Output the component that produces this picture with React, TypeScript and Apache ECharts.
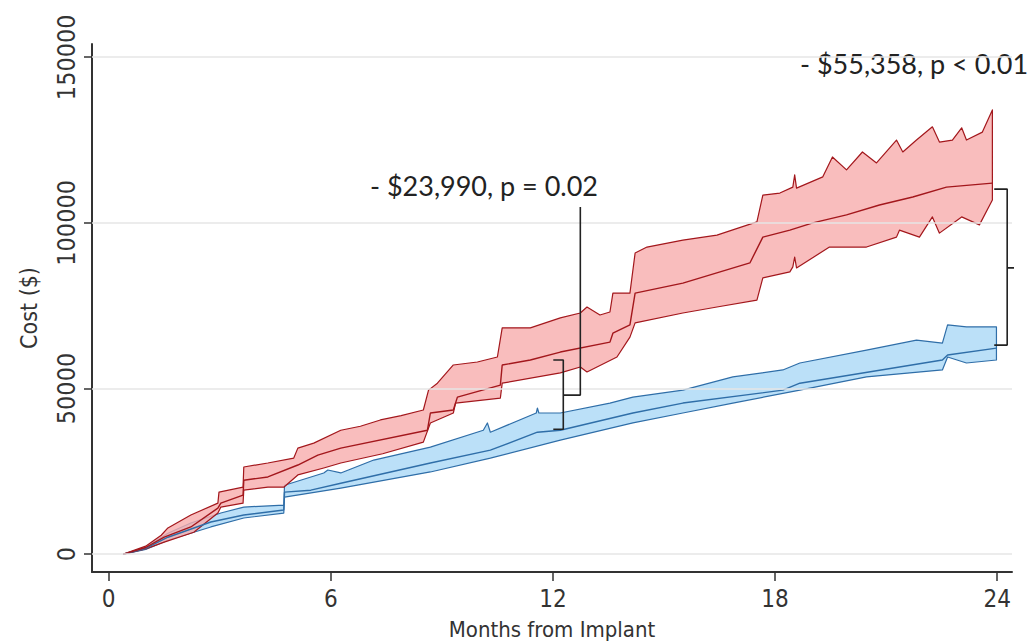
import React, { useEffect, useRef } from "react";
import * as echarts from "echarts";

// ---- data (months from implant, cost in $) ----
const xTicks = [0, 6, 12, 18, 24];
const yTicks = [0, 50000, 100000, 150000];

const redUpper: [number, number][] = [
  [0.4, 0], [1.0, 2400], [1.42, 5700], [1.6, 7900], [2.22, 11800], [2.95, 15400], [2.98, 18700],
  [3.63, 20200], [3.65, 26300], [4.3, 27500], [5.0, 29000], [5.11, 32000], [5.54, 33500],
  [6.27, 37400], [6.8, 38600], [7.34, 40500], [7.9, 41800], [8.5, 43500], [8.64, 49500], [8.88, 51600], [9.31, 57100],
  [9.96, 58000], [10.5, 59500], [10.63, 68300], [11.39, 68300], [12.2, 71300], [12.74, 72800],
  [12.92, 74600], [13.27, 72200], [13.54, 73100], [13.62, 78800], [14.08, 78800], [14.22, 90900],
  [14.54, 92700], [15.51, 94800], [16.43, 96300], [17.51, 100300], [17.67, 108400], [18.13, 109000],
  [18.48, 110800], [18.53, 114500], [18.58, 110500], [19.29, 113900], [19.55, 119900], [19.93, 116000],
  [20.36, 121400], [20.74, 118100], [21.28, 125000], [21.45, 121400], [21.82, 125000], [22.25, 129000],
  [22.44, 124400], [22.79, 125000], [23.04, 128700], [23.17, 125000], [23.6, 127400], [23.87, 134100],
];
const redMean: [number, number][] = [
  [0.4, 0], [1.0, 2000], [1.5, 5100], [2.22, 8200], [2.95, 13900], [3.03, 15400], [3.63, 17800],
  [3.65, 22300], [4.3, 23300], [5.11, 26900], [5.65, 29900], [6.27, 32000], [8.61, 37400],
  [8.69, 42600], [9.31, 43500], [9.42, 47400], [10.58, 51000], [10.63, 57100], [11.39, 58600],
  [12.2, 61000], [13.54, 64000], [13.62, 66700], [14.08, 69200], [14.22, 78800], [15.51, 81800],
  [17.32, 87900], [17.67, 95700], [18.4, 97800], [19.02, 100000], [19.93, 102400], [20.82, 105400],
  [21.72, 107800], [22.63, 110800], [23.87, 112000],
];
const redLower: [number, number][] = [
  [0.4, 0], [1.0, 1600], [1.5, 3600], [2.3, 6600], [2.95, 12400], [3.03, 14200], [3.63, 15400],
  [3.65, 19300], [4.3, 20200], [4.73, 20200], [5.11, 23900], [5.81, 26000], [6.27, 27500],
  [7.4, 30300], [8.5, 33800], [8.69, 39600], [9.31, 42600], [9.37, 45600], [10.58, 47100], [10.63, 51600],
  [12.2, 54700], [12.74, 56500], [12.92, 55000], [13.73, 59500], [14.08, 65500], [14.22, 69800],
  [15.51, 72800], [16.43, 74600], [17.51, 76700], [17.67, 83400], [18.4, 85200], [18.48, 86700],
  [18.53, 89700], [18.58, 86400], [19.47, 92700], [20.47, 92700], [21.28, 95700], [21.36, 97800],
  [21.9, 95700], [22.25, 101800], [22.44, 96900], [23.04, 101800], [23.52, 99400], [23.87, 106900],
];

const blueUpper: [number, number][] = [
  [0.4, 0], [1.0, 2000], [1.6, 6300], [2.22, 9400], [3.03, 12400], [3.65, 14200], [4.73, 14800],
  [4.75, 20800], [5.81, 24500], [5.92, 25400], [6.27, 24500], [7.16, 28400], [8.69, 32300],
  [10.12, 37400], [10.23, 39600], [10.31, 36800], [11.55, 42600], [11.58, 44100], [11.62, 42600],
  [12.2, 42600], [13.54, 45600], [14.16, 47400], [15.51, 49500], [16.86, 53500], [18.21, 55600],
  [18.67, 57700], [20.47, 61600], [21.82, 64600], [22.52, 63700], [22.66, 69200], [23.17, 68600],
  [23.98, 68600],
];
const blueMean: [number, number][] = [
  [0.4, 0], [1.0, 1700], [1.6, 5100], [2.76, 9700], [3.65, 11800], [4.73, 13300], [4.75, 18700],
  [5.46, 19300], [6.27, 21400], [8.69, 27500], [10.31, 31400], [11.58, 36800], [12.2, 37400],
  [14.16, 42600], [15.51, 45600], [18.21, 49500], [18.67, 51600], [22.52, 58600], [22.66, 60100],
  [23.98, 62200],
];
const blueLower: [number, number][] = [
  [0.4, 0], [1.0, 1400], [1.6, 4200], [2.76, 8200], [3.65, 10900], [4.73, 12400], [4.75, 17200],
  [6.27, 19900], [8.69, 24800], [10.31, 29000], [12.2, 34400], [14.16, 39600], [15.51, 42600],
  [16.86, 45600], [18.67, 49500], [20.47, 53500], [22.52, 55600], [22.66, 59500], [23.17, 57700],
  [23.98, 58600],
];

// annotation brackets (data coordinates)
const bracket12: [number, number][] = [[12.01, 58600], [12.28, 58600], [12.28, 37700], [12.01, 37700]];
const leader12: [number, number][] = [[12.28, 48000], [12.74, 48000], [12.74, 104800]];
const bracket24: [number, number][] = [[23.92, 110200], [24.27, 110200], [24.27, 63100], [23.92, 63100]];
const leader24: [number, number][] = [[24.27, 86400], [24.6, 86400], [24.6, 140100]];
const label12 = "- $23,990, p = 0.02";
const label24 = "- $55,358, p < 0.01";
const xTitle = "Months from Implant";

const narrow = "'Liberation Sans Narrow', 'Arial Narrow', 'DejaVu Sans Condensed', sans-serif";
const calib = "Lato, 'Open Sans', sans-serif";

function band(upper: [number, number][], lower: [number, number][], fill: string, stroke: string, z: number) {
  return {
    type: "custom",
    z,
    silent: true,
    data: [[12, 50000]],
    renderItem: (_p: any, api: any) => {
      const pts = [...upper.map((p) => api.coord(p)), ...lower.slice().reverse().map((p) => api.coord(p))];
      return {
        type: "polygon",
        shape: { points: pts },
        style: { fill, stroke, lineWidth: 1.2, lineJoin: "round" },
      };
    },
  };
}

function line(data: [number, number][], color: string, width: number, z: number) {
  return {
    type: "line",
    data,
    z,
    clip: false,
    silent: true,
    showSymbol: false,
    symbol: "none",
    lineStyle: { color, width },
  };
}

export default function App() {
  const ref = useRef<HTMLDivElement>(null);
  useEffect(() => {
    document.body.style.margin = "0";
    const chart = echarts.init(ref.current!, null, { renderer: "svg" });
    const option: any = {
      animation: false,
      backgroundColor: "#ffffff",
      grid: { left: 92, right: 21, top: 44, bottom: 69, outerBoundsMode: "none", containLabel: false },
      xAxis: {
        type: "value",
        min: -0.45,
        max: 24.4,
        axisLine: { show: true, onZero: false, lineStyle: { color: "#333", width: 2 } },
        axisTick: { show: true, customValues: xTicks, length: 9, lineStyle: { color: "#333", width: 1.5 } },
        axisLabel: { customValues: xTicks, fontSize: 24, color: "#333", margin: 15, fontFamily: narrow, formatter: (v: number) => String(v) },
        splitLine: { show: false },
      },
      yAxis: {
        type: "value",
        min: -5400,
        max: 154000,
        axisLine: { show: true, onZero: false, lineStyle: { color: "#333", width: 2 } },
        axisTick: { show: true, customValues: yTicks, length: 8, lineStyle: { color: "#333", width: 1.5 } },
        axisLabel: { customValues: yTicks, rotate: 90, fontSize: 25, color: "#333", margin: 13, fontFamily: narrow, formatter: (v: number) => String(v) },
        splitLine: { show: false },
        name: "Cost ($)",
        nameLocation: "middle",
        nameGap: 52,
        nameRotate: 90,
        nameTextStyle: { fontSize: 23, color: "#333", fontFamily: narrow },
      },
      series: [
        {
          type: "line",
          data: [],
          z: 0,
          silent: true,
          markLine: {
            silent: true,
            symbol: "none",
            label: { show: false },
            lineStyle: { color: "#e6e6e6", width: 1.5, type: "solid" },
            data: yTicks.map((v) => ({ yAxis: v })),
          },
        },
        band(blueUpper, blueLower, "rgba(175,218,247,0.85)", "#2f6ea8", 1),
        band(redUpper, redLower, "rgba(248,172,172,0.8)", "#a3171c", 2),
        line(blueMean, "#2f6ea8", 1.4, 3),
        line(redMean, "#a3171c", 1.4, 4),
        line(bracket12, "#222", 1.6, 5),
        line(leader12, "#222", 1.6, 5),
        line(bracket24, "#222", 1.6, 5),
        line(leader24, "#222", 1.6, 5),
      ],
      graphic: [
        {
          type: "text",
          x: 552,
          y: 629,
          style: { text: xTitle, fontSize: 22, fontFamily: narrow, fill: "#333", textAlign: "center", textVerticalAlign: "middle" },
        },
        {
          type: "text",
          x: 484,
          y: 185,
          style: { text: label12, fontSize: 27, fontFamily: calib, fill: "#222", textAlign: "center", textVerticalAlign: "middle" },
        },
        {
          type: "text",
          x: 800,
          y: 63,
          style: { text: label24, fontSize: 27, fontFamily: calib, fill: "#222", textAlign: "left", textVerticalAlign: "middle" },
        },
      ],
    };
    chart.setOption(option);
    return () => chart.dispose();
  }, []);
  return <div ref={ref} style={{ width: 1033, height: 641 }} />;
}
